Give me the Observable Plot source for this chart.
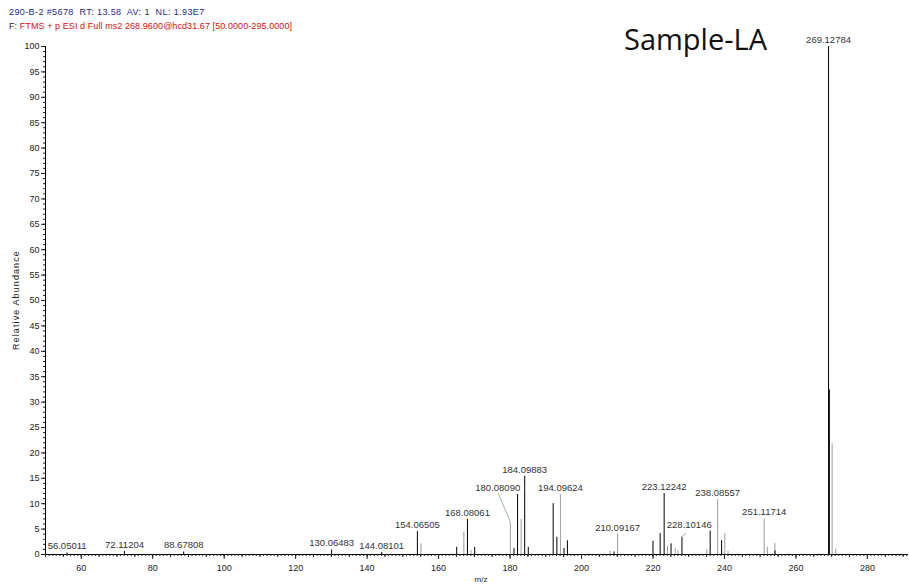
<!DOCTYPE html>
<html><head><meta charset="utf-8">
<script src="https://cdn.jsdelivr.net/npm/d3@7"></script>
<script src="https://cdn.jsdelivr.net/npm/@observablehq/plot@0.6"></script>
<style>
body{margin:0;background:#fff;}
#wrap{position:relative;width:909px;height:584px;overflow:hidden;font-family:"Liberation Sans",Arial,sans-serif;}
#wrap svg{position:absolute;left:0;top:0;}
.hdr{position:absolute;left:9px;font-size:9px;white-space:pre;line-height:1;}
#h1{top:8px;color:#1f2a80;letter-spacing:0.4px;}
#h2{top:22px;color:#d01010;letter-spacing:0.08px;}
#h2 span{color:#3a1a1a;}
#sample{position:absolute;left:624px;top:22px;font-family:"Open Sans",sans-serif;font-size:29px;color:#111;line-height:1.2;}
#ylab{position:absolute;left:16px;top:300px;font-size:9px;letter-spacing:1.1px;color:#222;transform:translate(-50%,-50%) rotate(-90deg);white-space:pre;}
#xlab{position:absolute;left:481px;top:575px;font-size:8px;color:#222;transform:translateX(-50%);}
</style></head>
<body><div id="wrap"></div>
<script>
// ---- data ----
const mzValues = [56.05011, 72.11204, 88.67808, 130.06483, 144.08101,
  154.06505, 155.07, 165.07, 167.07, 168.08061, 169.07, 170.10,
  180.08090, 181.10, 182.10, 183.10, 184.09883, 185.10,
  192.07, 193.10, 194.09624, 195.10, 196.05,
  208.00, 209.10, 210.09167,
  220.00, 222.00, 223.12242, 224.05, 225.05, 226.20, 227.00, 228.10146,
  235.05, 236.00, 238.08557, 239.20, 240.10, 241.00,
  251.11714, 252.00, 254.10, 254.15,
  269.12784, 269.35, 270.13, 271.13];
const intensities = [0.3, 0.6, 0.5, 0.9, 0.4,
  4.5, 2.1, 1.4, 4.4, 6.9, 0.8, 1.4,
  6.3, 1.2, 11.8, 6.9, 15.4, 1.4,
  10.0, 3.4, 11.8, 1.2, 2.7,
  0.7, 0.5, 4.0,
  2.6, 4.1, 12.0, 1.6, 2.1, 1.2, 0.7, 3.4,
  1.0, 4.6, 10.8, 2.7, 4.1, 0.6,
  7.0, 1.4, 2.2, 0.7,
  100, 32.4, 21.8, 1.1];
const traces = ["A","A","A","A","A",
  "A","B","A","B","A","B","A",
  "B","A","A","B","A","A",
  "A","A","B","A","A",
  "B","A","B",
  "A","A","A","B","A","B","B","A",
  "B","A","B","A","B","B",
  "B","B","B","A",
  "A","A","B","B"];
const peakLabels = ["56.05011","72.11204","88.67808","130.06483","144.08101",
  "154.06505","","","","168.08061","","",
  "180.08090","","","","184.09883","",
  "","","194.09624","","",
  "","","210.09167",
  "","","223.12242","","","","","228.10146",
  "","","238.08557","","","",
  "251.11714","","","",
  "269.12784","","",""];
const xTicks = [60, 80, 100, 120, 140, 160, 180, 200, 220, 240, 260, 280];
const yTicks = [0, 5, 10, 15, 20, 25, 30, 35, 40, 45, 50, 55, 60, 65, 70, 75, 80, 85, 90, 95, 100];
const headerLine1 = "290-B-2 #5678  RT: 13.58  AV: 1  NL: 1.93E7";
const headerFilterPrefix = "F:";
const headerFilter = " FTMS + p ESI d Full ms2 268.9600@hcd31.67 [50.0000-295.0000]";
const sampleName = "Sample-LA";
const yTitle = "Relative Abundance";
const xTitle = "m/z";

// ---- build ----
const peaks = mzValues.map((mz, i) => ({mz, h: intensities[i], trace: traces[i], label: peakLabels[i]}));
// labels displaced from their peak, with a leader line (pixel offsets)
const leader = {
  "180.08090": {dx: -12.6, dy: -31, lx: -12.3, ly: -29, col: "#8aa58a"},
  "228.10146": {dx: 7.3, dy: -9.5, lx: 4, ly: -3.6, col: "#8aa58a"}
};
const plainLabels = peaks.filter(p => p.label && !leader[p.label]);
const movedLabels = peaks.filter(p => leader[p.label]);

const minorX = d3.range(50, 292, 1);
const midX = d3.range(50, 292, 5);
const minorY = d3.range(0, 101, 1);

const marks = [
  Plot.ruleX(peaks, {x: "mz", y1: 0, y2: "h", stroke: "trace", strokeWidth: 1}),
  Plot.text(plainLabels, {x: "mz", y: "h", text: "label", lineAnchor: "bottom", dy: -3.5, fontSize: 9.5, fill: "#333"}),
  ...movedLabels.map(p => Plot.text([p], {x: "mz", y: "h", text: "label", lineAnchor: "bottom", dx: leader[p.label].dx, dy: leader[p.label].dy, fontSize: 9.5, fill: "#333"})),
  Plot.ruleY([0], {stroke: "#000"}),
  Plot.ruleX([50], {y1: 0, y2: 100, stroke: "#000"})
];
const hasAxisMarks = typeof Plot.axisX === "function";
if (hasAxisMarks) {
  marks.push(
    Plot.axisX({ticks: xTicks, tickSize: 5, tickPadding: 5, label: null, fontSize: 9}),
    Plot.axisX({ticks: midX, tickSize: 3, tickFormat: () => "", label: null}),
    Plot.axisX({ticks: minorX, tickSize: 2, tickFormat: () => "", label: null}),
    Plot.axisY({ticks: yTicks, tickSize: 4, tickPadding: 2, label: null, fontSize: 9}),
    Plot.axisY({ticks: minorY, tickSize: 2, tickFormat: () => "", label: null})
  );
}

const plot = Plot.plot({
  width: 909, height: 584,
  marginTop: 46, marginBottom: 30, marginLeft: 45, marginRight: 1,
  style: {fontFamily: "Liberation Sans, Arial, sans-serif", fontSize: "9px", color: "#222", background: "transparent"},
  x: {domain: [50, 291.5], ...(hasAxisMarks ? {} : {ticks: xTicks, tickSize: 5, label: null})},
  y: {domain: [0, 100], ...(hasAxisMarks ? {} : {ticks: yTicks, tickSize: 4, label: null})},
  color: {domain: ["A", "B"], range: ["#000000", "#9c9c9c"]},
  marks
});

const wrap = document.getElementById("wrap");
wrap.appendChild(plot);

// leader lines drawn through the plot's own scales
const sx = plot.scale("x"), sy = plot.scale("y");
const fx = sx.apply ? v => sx.apply(v) : d3.scaleLinear(sx.domain, sx.range);
const fy = sy.apply ? v => sy.apply(v) : d3.scaleLinear(sy.domain, sy.range);
const g = d3.select(plot).append("g");
movedLabels.forEach(p => {
  const L = leader[p.label];
  const x0 = fx(p.mz) + 0.5, y0 = fy(p.h);
  g.append("line").attr("x1", x0).attr("y1", y0).attr("x2", x0 + L.lx).attr("y2", y0 + L.ly)
    .attr("stroke", L.col).attr("stroke-width", 0.8);
});

function addDiv(id) { const d = document.createElement("div"); d.id = id; wrap.appendChild(d); return d; }
const h1 = addDiv("h1"); h1.className = "hdr"; h1.textContent = headerLine1;
const h2 = addDiv("h2"); h2.className = "hdr";
const sp = document.createElement("span"); sp.textContent = headerFilterPrefix; h2.appendChild(sp);
h2.appendChild(document.createTextNode(headerFilter));
addDiv("sample").textContent = sampleName;
addDiv("ylab").textContent = yTitle;
addDiv("xlab").textContent = xTitle;
</script>
</body></html>
